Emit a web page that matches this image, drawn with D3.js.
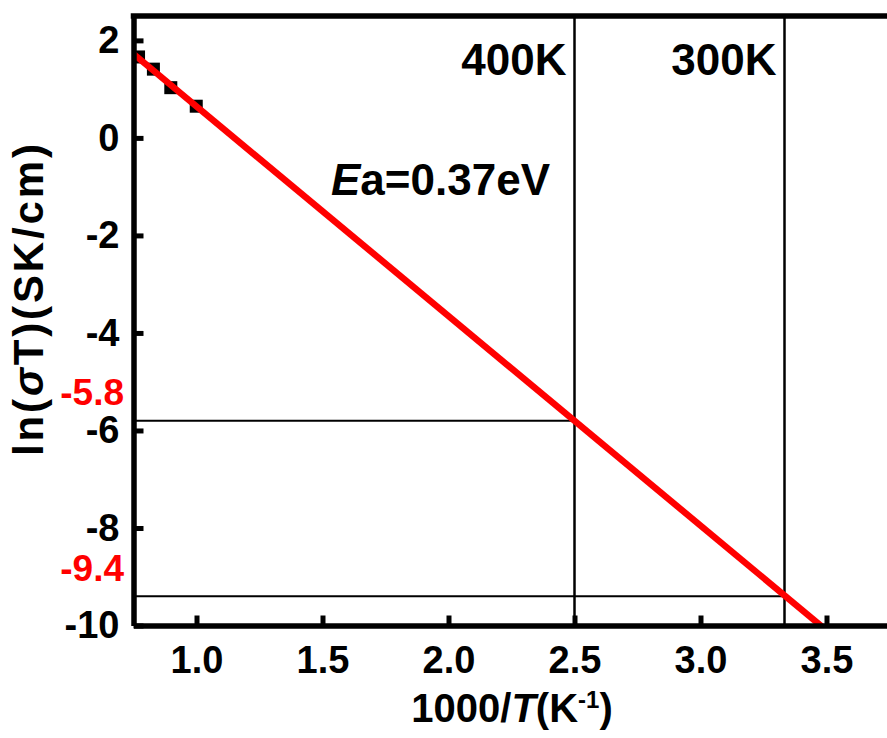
<!DOCTYPE html>
<html>
<head>
<meta charset="utf-8">
<script src="https://cdn.jsdelivr.net/npm/d3@7/dist/d3.min.js"></script>
<style>
  html, body { margin: 0; padding: 0; background: #fff; overflow: hidden; }
  svg { display: block; overflow: hidden; font-family: "Liberation Sans", Arial, Helvetica, sans-serif; font-weight: bold; }
</style>
</head>
<body>
<svg id="chart" width="887" height="738"></svg>
<script>
// Measured points: 1000/T (K^-1) and ln(sigma*T)
const invT = [0.770, 0.829, 0.898, 0.999];
const lnSigmaT = [1.66, 1.41, 1.03, 0.65];

// Arrhenius fit line end points (Ea = 0.37 eV)
const fitX = [0.75, 3.5];
const fitY = [1.72, -10.1];

// Reference temperatures and the values read at them
const refTemps = ["400K", "300K"];
const refInvT = [1000 / 400, 1000 / 300];
const refLn = [-5.8, -9.4];
const refLnLabels = ["-5.8", "-9.4"];

// Axis ticks
const xTicks = [1.0, 1.5, 2.0, 2.5, 3.0, 3.5];
const yTicks = [2, 0, -2, -4, -6, -8, -10];

const W = 887;
const svg = d3.select("#chart");
const plotLeft = 133.5, plotTop = 16, plotBottom = 625.5;
const xMax = 3.8;
const x = d3.scaleLinear().domain([0.75, xMax]).range([plotLeft, plotLeft + (xMax - 0.75) * 252]);
const y = d3.scaleLinear().domain([-10, 2.5]).range([plotBottom, plotTop]);
// The frame continues past the right edge of the view
const plotRight = W;

svg.append("defs").append("clipPath").attr("id", "plotClip")
  .append("rect").attr("x", plotLeft).attr("y", plotTop)
  .attr("width", plotRight - plotLeft).attr("height", plotBottom - plotTop);

const plot = svg.append("g").attr("clip-path", "url(#plotClip)");

// Vertical guides at 400 K and 300 K
plot.selectAll("line.vguide").data(refInvT).join("line")
  .attr("class", "vguide")
  .attr("x1", d => x(d)).attr("x2", d => x(d))
  .attr("y1", plotTop).attr("y2", plotBottom)
  .attr("stroke", "#000").attr("stroke-width", 2.5);

// Horizontal guides from the y axis to each temperature line
plot.selectAll("line.hguide").data(refLn).join("line")
  .attr("class", "hguide")
  .attr("x1", plotLeft).attr("x2", (d, i) => x(refInvT[i]))
  .attr("y1", d => y(d)).attr("y2", d => y(d))
  .attr("stroke", "#000").attr("stroke-width", 2);

// Data squares
const sq = 13;
plot.selectAll("rect.pt").data(invT).join("rect")
  .attr("class", "pt")
  .attr("x", d => x(d) - sq / 2)
  .attr("y", (d, i) => y(lnSigmaT[i]) - sq / 2)
  .attr("width", sq).attr("height", sq)
  .attr("fill", "#000");

// Fit line
plot.append("path")
  .datum(fitX.map((d, i) => [d, fitY[i]]))
  .attr("d", d3.line().x(d => x(d[0])).y(d => y(d[1])))
  .attr("fill", "none").attr("stroke", "#ff0000").attr("stroke-width", 6.5);

// Axes with inward ticks
const xAxis = svg.append("g").attr("transform", `translate(0,${plotBottom})`)
  .call(d3.axisBottom(x).tickValues(xTicks).tickFormat(d3.format(".1f"))
    .tickSizeInner(-10).tickSizeOuter(0).tickPadding(21));
const yAxis = svg.append("g").attr("transform", `translate(${plotLeft},0)`)
  .call(d3.axisLeft(y).tickValues(yTicks).tickFormat(d => d)
    .tickSizeInner(-10).tickSizeOuter(0).tickPadding(14));

[xAxis, yAxis].forEach(g => {
  g.select(".domain").attr("stroke", "#000").attr("stroke-width", 5.5);
  g.selectAll(".tick line").attr("stroke", "#000").attr("stroke-width", 5);
  g.selectAll(".tick text").attr("fill", "#000")
    .style("font-family", "'Liberation Sans', Arial, sans-serif")
    .style("font-weight", "bold").style("font-size", "38px");
});

// Top border
svg.append("line").attr("x1", plotLeft - 2.75).attr("x2", plotRight)
  .attr("y1", plotTop).attr("y2", plotTop)
  .attr("stroke", "#000").attr("stroke-width", 5.5);

// Temperature labels
svg.selectAll("text.temp").data(refTemps).join("text")
  .attr("class", "temp")
  .attr("x", (d, i) => x(refInvT[i]) - 8)
  .attr("y", 75)
  .attr("text-anchor", "end")
  .style("font-size", "44px")
  .text(d => d);

// Read-off values on the y axis
svg.selectAll("text.readoff").data(refLnLabels).join("text")
  .attr("class", "readoff")
  .attr("x", 124)
  .attr("y", (d, i) => y(refLn[i]) - 15.5)
  .attr("text-anchor", "end")
  .attr("fill", "#ff0000")
  .style("font-size", "37px")
  .text(d => d);

// Activation energy
const ea = svg.append("text").attr("x", 331).attr("y", 195).style("font-size", "44px");
ea.append("tspan").style("font-style", "italic").text("E");
ea.append("tspan").text("a=0.37eV");

// X axis title
const xt = svg.append("text").attr("x", 512).attr("y", 722)
  .attr("text-anchor", "middle").style("font-size", "40px");
xt.append("tspan").text("1000/");
xt.append("tspan").style("font-style", "italic").text("T");
xt.append("tspan").text("(K");
xt.append("tspan").attr("dy", -14).style("font-size", "24px").text("-1");
xt.append("tspan").attr("dy", 14).text(")");

// Y axis title
const yt = svg.append("text")
  .attr("transform", "translate(43,300) rotate(-90)")
  .attr("text-anchor", "middle").style("font-size", "42px")
  .attr("textLength", 312).attr("lengthAdjust", "spacing");
yt.append("tspan").text("ln(");
yt.append("tspan").style("font-style", "italic").text("σ");
yt.append("tspan").text("T)(SK/cm)");
</script>
</body>
</html>
